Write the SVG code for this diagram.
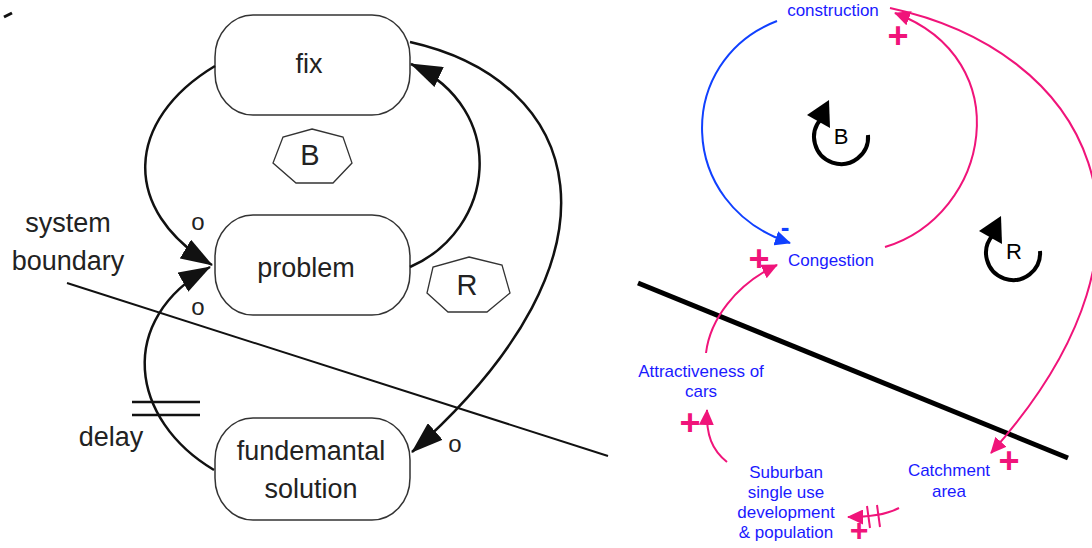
<svg xmlns="http://www.w3.org/2000/svg" width="1092" height="548" viewBox="0 0 1092 548">
<defs>
<marker id="ah" markerUnits="userSpaceOnUse" markerWidth="32" markerHeight="22" viewBox="0 0 32 22" refX="31" refY="11" orient="auto"><path d="M0,0 L32,11 L0,22 z" fill="#111"/></marker>
<marker id="ahp" markerUnits="userSpaceOnUse" markerWidth="16" markerHeight="15" viewBox="0 0 16 15" refX="15" refY="7.5" orient="auto"><path d="M0,0 L16,7.5 L0,15 z" fill="#f0147a"/></marker>
<marker id="ahb" markerUnits="userSpaceOnUse" markerWidth="16" markerHeight="15" viewBox="0 0 16 15" refX="15" refY="7.5" orient="auto"><path d="M0,0 L16,7.5 L0,15 z" fill="#1040ff"/></marker>
</defs>
<style>
.box{fill:#fff;stroke:#333;stroke-width:1.5}
.hep{fill:#fff;stroke:#333;stroke-width:1.3}
.lt{font-family:"Liberation Sans",Arial,sans-serif;font-size:27px;fill:#222;text-anchor:middle}
.big{font-size:29px}
.conn{fill:none;stroke:#111;stroke-width:2.5}
.rt{font-family:"Liberation Sans",Arial,sans-serif;font-size:17px;fill:#1a1aff;text-anchor:middle}
.pk{fill:none;stroke:#f0147a;stroke-width:2}
.bl{fill:none;stroke:#1040ff;stroke-width:2}
.plus{font-family:"Liberation Sans",Arial,sans-serif;font-size:36px;font-weight:bold;fill:#f0147a;text-anchor:middle}
.minus{font-family:"Liberation Sans",Arial,sans-serif;font-size:26px;font-weight:bold;fill:#1040ff;text-anchor:middle}
.loop{fill:none;stroke:#000;stroke-width:4}
.lb{font-family:"Liberation Sans",Arial,sans-serif;font-size:22px;fill:#000;text-anchor:middle}
</style>
<rect width="1092" height="548" fill="#fff"/>
<path d="M4,17 L12,13" stroke="#111" stroke-width="3" fill="none"/>

<!-- left diagram -->
<g id="boundary-left">
<line x1="67" y1="283" x2="608" y2="456" stroke="#111" stroke-width="2"/>
<text class="lt" x="68" y="232">system</text>
<text class="lt" x="68" y="270">boundary</text>
</g>
<g id="fix"><rect class="box" x="215" y="15" width="195" height="100" rx="38" ry="42"/><text class="lt" x="309" y="73">fix</text></g>
<g id="problem"><rect class="box" x="215" y="215" width="195" height="100" rx="38" ry="42"/><text class="lt" x="306" y="277">problem</text></g>
<g id="fundamental"><rect class="box" x="215" y="418" width="195" height="102" rx="38" ry="42"/><text class="lt" x="311" y="460">fundemantal</text><text class="lt" x="311" y="498">solution</text></g>
<g id="loopB-left"><polygon class="hep" points="312,129 343,137 352,163 333,183 296,183 273,163 283,137"/><text class="lt big" x="310" y="165">B</text></g>
<g id="loopR-left"><polygon class="hep" points="469,257 502,265 510,293 487,312 448,312 427,293 433,267"/><text class="lt big" x="467" y="295">R</text></g>

<g id="connectors-left">
<path class="conn" d="M215,66 C125,120 120,210 212,265" marker-end="url(#ah)"/>
<path class="conn" d="M214,470 C130,420 115,320 210,267" marker-end="url(#ah)"/>
<path class="conn" d="M410,267 C495,230 510,110 411,64" marker-end="url(#ah)"/>
<path class="conn" d="M410,42 C580,80 640,250 412,452" marker-end="url(#ah)"/>
<line x1="132" y1="402" x2="200" y2="402" stroke="#111" stroke-width="2.5"/>
<line x1="132" y1="415" x2="200" y2="415" stroke="#111" stroke-width="2.5"/>
<text class="lt" x="111" y="446">delay</text>
<text class="lt" x="198" y="230" style="font-size:24px">o</text>
<text class="lt" x="198" y="315" style="font-size:24px">o</text>
<text class="lt" x="455" y="452" style="font-size:24px">o</text>
</g>

<!-- right diagram -->
<g id="boundary-right"><line x1="638" y1="283" x2="1068" y2="458" stroke="#000" stroke-width="5"/></g>
<g id="construction"><text class="rt" x="833" y="16">construction</text></g>
<g id="congestion"><text class="rt" x="831" y="266">Congestion</text></g>
<g id="attractiveness"><text class="rt" x="701" y="377">Attractiveness of</text><text class="rt" x="701" y="397">cars</text></g>
<g id="suburban"><text class="rt" x="786" y="478">Suburban</text><text class="rt" x="786" y="498">single use</text><text class="rt" x="786" y="518">development</text><text class="rt" x="786" y="538">&amp; population</text></g>
<g id="catchment"><text class="rt" x="949" y="476">Catchment</text><text class="rt" x="949" y="497">area</text></g>
<g id="loopB-right"><path class="loop" d="M868,135 A27,27 0 1 1 821,119"/><polygon points="829,100 807,115 830,128" fill="#000"/><text class="lb" x="841" y="144">B</text></g>
<g id="loopR-right"><path class="loop" d="M1040,251 A27,27 0 1 1 993,235"/><polygon points="1001,216 979,231 1002,244" fill="#000"/><text class="lb" x="1014" y="259">R</text></g>

<g id="connectors-right">
<path class="bl" d="M777,21 C675,60 675,205 790,243" marker-end="url(#ahb)"/>
<text class="minus" x="785" y="236">-</text>
<path class="pk" d="M885,247 C990,215 1020,60 895,13" marker-end="url(#ahp)"/>
<text class="plus" x="898" y="48">+</text>
<path class="pk" d="M890,8 C1085,50 1190,230 991,453" marker-end="url(#ahp)"/>
<text class="plus" x="1009" y="473">+</text>
<path class="pk" d="M706,353 C710,320 735,285 777,265" marker-end="url(#ahp)"/>
<text class="plus" x="759" y="271">+</text>
<path class="pk" d="M727,462 C712,450 706,435 707,410" marker-end="url(#ahp)"/>
<text class="plus" x="690" y="435">+</text>
<path class="pk" d="M899,508 C885,515 870,517 848,517" marker-end="url(#ahp)"/>
<line x1="867" y1="506" x2="870" y2="528" stroke="#f0147a" stroke-width="2"/>
<line x1="877" y1="505" x2="880" y2="527" stroke="#f0147a" stroke-width="2"/>
<text class="plus" x="859" y="541" style="font-size:32px">+</text>
</g>
</svg>
